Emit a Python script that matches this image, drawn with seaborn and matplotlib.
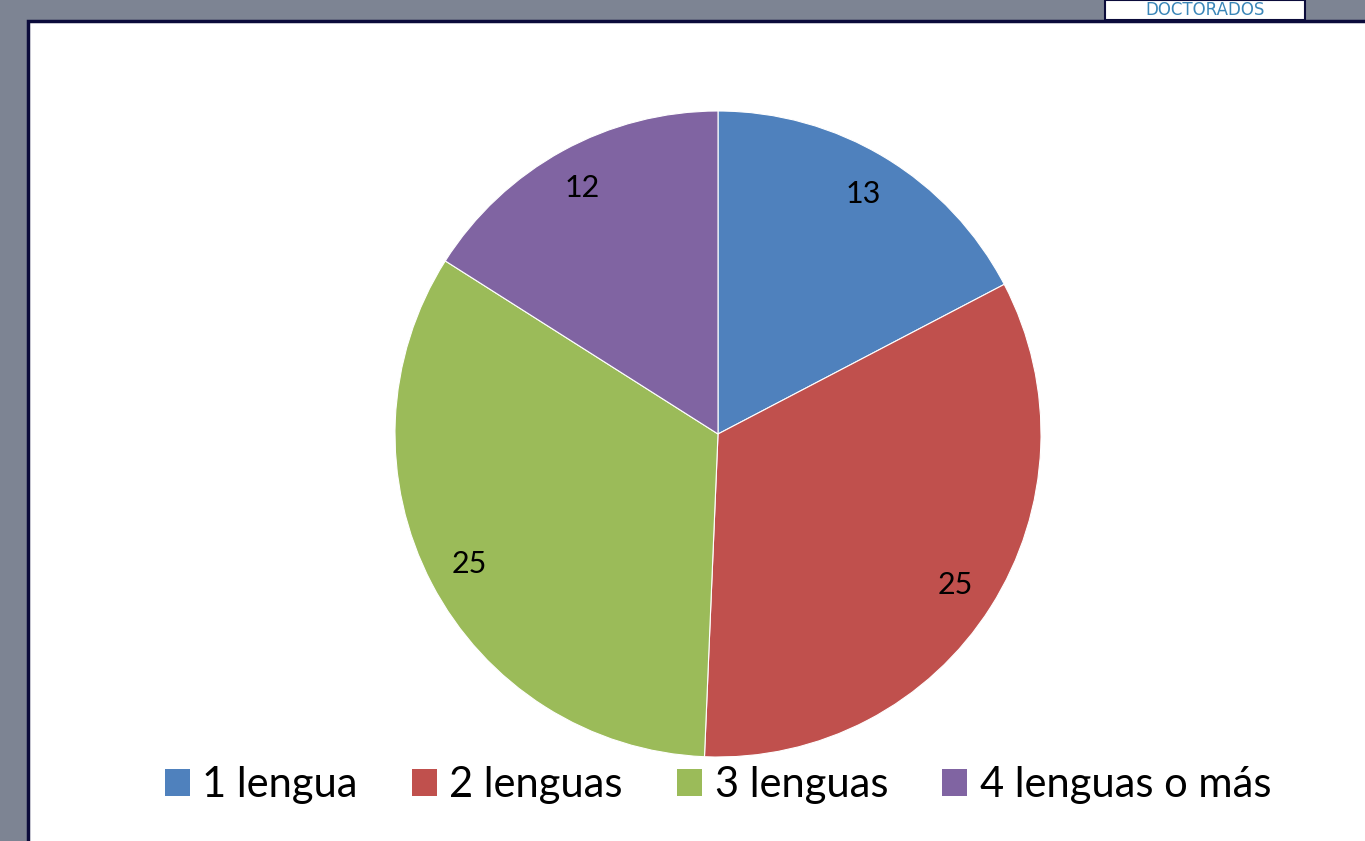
import matplotlib
matplotlib.use('Agg')
import matplotlib.pyplot as plt
import matplotlib.patches as mpatches
import seaborn as sns

# Data
categories = ['1 lengua', '2 lenguas', '3 lenguas', '4 lenguas o más']
values = [13, 25, 25, 12]
colors = ['#4F81BD', '#C0504D', '#9BBB59', '#8064A2']

sns.set_theme(style='white')
plt.rcParams['font.family'] = ['Lato', 'DejaVu Sans']

fig = plt.figure(figsize=(13.65, 8.41), dpi=100)
fig.patch.set_facecolor('#7d8493')

# white slide panel with dark border
panel = mpatches.Rectangle((28 / 1365, -0.01), 1.0, (841 - 21) / 841 + 0.01,
                           transform=fig.transFigure, facecolor='white',
                           edgecolor='#0b0b3b', linewidth=2.5, zorder=0)
fig.patches.append(panel)

# small piece of a logo at the top right
logo = mpatches.Rectangle((1105 / 1365, (841 - 20) / 841), 200 / 1365, 20 / 841,
                          transform=fig.transFigure, facecolor='white',
                          edgecolor='#0b0b3b', linewidth=1.5, zorder=1)
fig.patches.append(logo)
fig.text(1205 / 1365, (841 - 10) / 841, 'DOCTORADOS', color='#3a86b8',
         fontsize=12, ha='center', va='center', family='DejaVu Sans', zorder=2)

# pie placed so its radius is about 323 px around (718, 434)
ax = fig.add_axes([395 / 1365, 84 / 841, 646 / 1365, 646 / 841])
ax.set_zorder(3)
ax.patch.set_alpha(0)
wedges, texts, autotexts = ax.pie(values, colors=colors, startangle=90,
                                  counterclock=False, autopct=lambda p: '',
                                  pctdistance=0.87,
                                  wedgeprops=dict(linewidth=0.8, edgecolor='white'))
for at, v in zip(autotexts, values):
    at.set_text(str(v))
    at.set_fontsize(22)
    at.set_color('black')
ax.set_xlim(-1, 1)
ax.set_ylim(-1, 1)
ax.set_aspect('equal')
ax.axis('off')

handles = [mpatches.Patch(facecolor=c, edgecolor='none') for c in colors]
leg = fig.legend(handles, categories, loc='center', bbox_to_anchor=(718 / 1365, 56 / 841),
                 ncol=4, frameon=False, fontsize=30, handlelength=0.6, handleheight=0.6,
                 handletextpad=0.3, columnspacing=1.3)
for t in leg.get_texts():
    t.set_color('black')

fig.savefig('out.png', dpi=100, facecolor=fig.get_facecolor())
